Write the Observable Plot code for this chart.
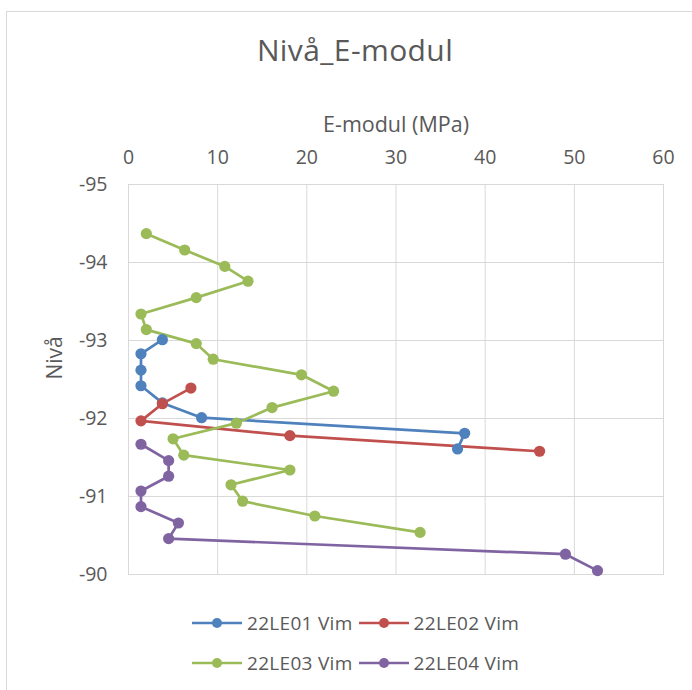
<!DOCTYPE html>
<html>
<head>
<meta charset="utf-8">
<script src="https://cdn.jsdelivr.net/npm/d3@7"></script>
<script src="https://cdn.jsdelivr.net/npm/@observablehq/plot@0.6"></script>
<style>
  html, body { margin: 0; padding: 0; background: #fff; }
  #chart { position: relative; width: 692px; height: 690px; overflow: hidden; font-family: "Open Sans", sans-serif; color: #595959; }
  #chart > svg { position: absolute; left: 0; top: 0; }
  #border { position: absolute; left: 6px; top: 11px; width: 700px; height: 700px; border-left: 1px solid #d9d9d9; border-top: 1px solid #d9d9d9; }
  #title { position: absolute; left: 0; width: 710px; top: 30px; text-align: center; font-size: 30px; letter-spacing: 0.4px; line-height: 40px; }
  .legend-row { position: absolute; left: 192px; display: flex; align-items: center; font-size: 19px; letter-spacing: 0.3px; white-space: nowrap; }
  .legend-item { display: flex; align-items: center; margin-right: 6px; }
  .legend-item svg { display: block; margin-right: 5px; }
</style>
</head>
<body>
<div id="chart">
  <div id="border"></div>
  <div id="title">Nivå_E-modul</div>
</div>
<script>
// Series names and colours
const seriesNames = ["22LE01 Vim", "22LE02 Vim", "22LE03 Vim", "22LE04 Vim"];
const seriesColors = ["#4F81BD", "#C0504D", "#9BBB59", "#8064A2"];

// 22LE01 Vim: E-modul (MPa) and level
const le01E = [3.8, 1.4, 1.4, 1.4, 3.8, 8.2, 37.7, 36.9];
const le01Level = [-93.01, -92.83, -92.62, -92.42, -92.20, -92.01, -91.81, -91.61];

// 22LE02 Vim
const le02E = [7.0, 3.8, 1.4, 18.1, 46.1];
const le02Level = [-92.39, -92.19, -91.97, -91.78, -91.58];

// 22LE03 Vim
const le03E = [2.0, 6.3, 10.8, 13.4, 7.6, 1.4, 2.0, 7.6, 9.5, 19.4, 23.0, 16.1, 12.1, 5.0, 6.2, 18.1, 11.5, 12.8, 20.9, 32.7];
const le03Level = [-94.37, -94.16, -93.95, -93.76, -93.55, -93.34, -93.14, -92.96, -92.76, -92.56, -92.35, -92.14, -91.94, -91.74, -91.53, -91.34, -91.15, -90.94, -90.75, -90.54];

// 22LE04 Vim
const le04E = [1.4, 4.5, 4.5, 1.4, 1.4, 5.6, 4.5, 49.0, 52.6];
const le04Level = [-91.67, -91.46, -91.26, -91.07, -90.87, -90.66, -90.46, -90.26, -90.05];

// Axis ticks and titles
const xTicks = [0, 10, 20, 30, 40, 50, 60];
const yTicks = [-95, -94, -93, -92, -91, -90];
const xTitle = "E-modul (MPa)";
const yTitle = "Nivå";

const seriesE = [le01E, le02E, le03E, le04E];
const seriesLevel = [le01Level, le02Level, le03Level, le04Level];
const rows = seriesNames.flatMap((name, i) =>
  seriesE[i].map((e, j) => ({series: name, e, level: seriesLevel[i][j]}))
);

const chart = Plot.plot({
  width: 692,
  height: 690,
  marginTop: 184,
  marginBottom: 116,
  marginLeft: 128,
  marginRight: 29,
  style: {fontFamily: "'Open Sans', sans-serif", fontSize: "19px", color: "#595959", background: "transparent", overflow: "visible"},
  x: {domain: [0, 60]},
  y: {domain: [-95, -90], reverse: true},
  color: {domain: seriesNames, range: seriesColors},
  marks: [
    Plot.gridX(xTicks, {stroke: "#d9d9d9", strokeOpacity: 1, strokeWidth: 1}),
    Plot.gridY(yTicks, {stroke: "#d9d9d9", strokeOpacity: 1, strokeWidth: 1}),
    Plot.frame({stroke: "#d9d9d9", strokeWidth: 1}),
    Plot.axisX(xTicks, {
      anchor: "top", tickSize: 0, tickPadding: 21, fontSize: 19.5, fill: "#595959",
      tickFormat: d => `${d}`, label: null
    }),
    Plot.axisY(yTicks, {
      anchor: "left", tickSize: 0, tickPadding: 21, fontSize: 19.5, fill: "#595959",
      tickFormat: d => `${d}`, label: null
    }),
    Plot.text([xTitle], {frameAnchor: "top", dy: -68, fontSize: 21.5, fill: "#595959", text: d => d}),
    Plot.text([yTitle], {frameAnchor: "left", dx: -73, rotate: -90, fontSize: 21, fill: "#595959", text: d => d}),
    Plot.line(rows, {x: "e", y: "level", z: "series", stroke: "series", strokeWidth: 2.7, curve: "linear"}),
    Plot.dot(rows, {x: "e", y: "level", fill: "series", r: 5.6, stroke: "none"})
  ]
});

const container = document.getElementById("chart");
container.insertBefore(chart, document.getElementById("title"));

// Legend: two rows of line-and-marker swatches
const legendRows = [[0, 1], [2, 3]];
const legendTops = [610, 650];
legendRows.forEach((idxs, r) => {
  const row = document.createElement("div");
  row.className = "legend-row";
  row.style.top = legendTops[r] + "px";
  idxs.forEach(i => {
    const item = document.createElement("div");
    item.className = "legend-item";
    const sw = d3.create("svg").attr("width", 50).attr("height", 24);
    sw.append("line").attr("x1", 0).attr("x2", 50).attr("y1", 12).attr("y2", 12)
      .attr("stroke", seriesColors[i]).attr("stroke-width", 2.7);
    sw.append("circle").attr("cx", 25).attr("cy", 12).attr("r", 5).attr("fill", seriesColors[i]);
    item.appendChild(sw.node());
    const label = document.createElement("span");
    label.textContent = seriesNames[i];
    item.appendChild(label);
    row.appendChild(item);
  });
  container.appendChild(row);
});
</script>
</body>
</html>
